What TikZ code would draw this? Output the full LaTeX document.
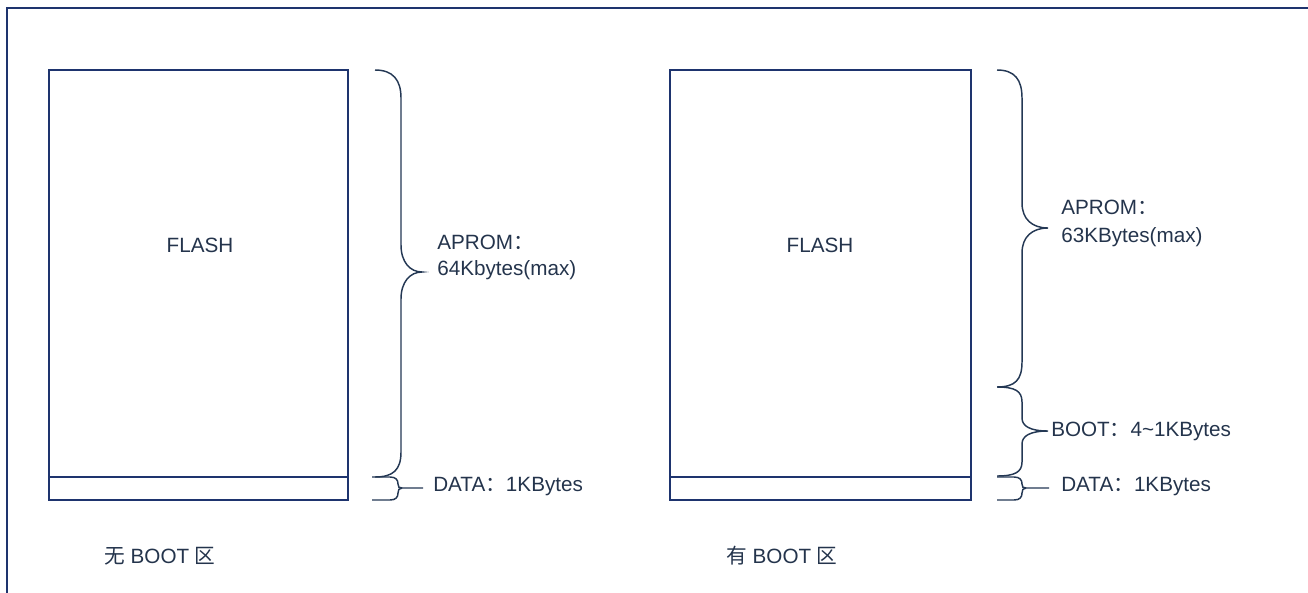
\documentclass[tikz,border=0pt]{standalone}
\usepackage{fontspec}
\setmainfont{Liberation Sans}
\newfontfamily\cjk{Noto Sans CJK SC}
\definecolor{navy}{RGB}{30,52,110}
\definecolor{brc}{RGB}{36,56,84}
\definecolor{txt}{RGB}{36,52,76}
\begin{document}
\begin{tikzpicture}[x=0.75pt,y=-0.75pt,
  box/.style={draw=navy,line width=1.3pt},
  brace/.style={draw=brc,line width=1.1pt},
  lbl/.style={text=txt,inner sep=0pt,anchor=west,font=\fontsize{15.5pt}{18pt}\selectfont},
  ctr/.style={text=txt,inner sep=0pt,font=\fontsize{15.5pt}{18pt}\selectfont}]
\useasboundingbox (0,0) rectangle (1308,592);
% frame
\draw[navy,line width=1.6pt] (7,610) -- (7,8) -- (1320,8);
% left flash
\draw[box] (49,70) rectangle (348,500);
\draw[box] (49,477) -- (348,477);
\node[ctr] (fl1) at (200,245) {FLASH};
% right flash
\draw[box] (670,70) rectangle (971,500);
\draw[box] (670,477) -- (971,477);
\node[ctr] (fl2) at (820,245) {FLASH};
% left APROM brace
\draw[brace] (375,70) .. controls (393,70) and (401,80) .. (401,98) -- (401,245)
  .. controls (401,262) and (410,272) .. (422,272)
  .. controls (410,272) and (401,282) .. (401,299) -- (401,452)
  .. controls (401,470) and (393,477) .. (375,477);
\node[lbl] (ap1) at (437,242) {APROM{\cjk ：}};
\node[lbl] (ap1b) at (437,270) {64Kbytes(max)};
% left DATA brace
\draw[brace] (372,477) -- (390,477) .. controls (396,477) and (398,480) .. (398,484)
  .. controls (398,487) and (399,488) .. (402,488) -- (423,488);
\draw[brace] (372,500) -- (390,500) .. controls (396,500) and (398,497) .. (398,493)
  .. controls (398,490) and (399,488) .. (402,488);
\node[lbl] (d1) at (433,487) {DATA{\cjk ：}1KBytes};
% right APROM brace
\draw[brace] (997,70) .. controls (1015,70) and (1022,80) .. (1022,98) -- (1022,203)
  .. controls (1022,219) and (1032,228) .. (1048,228)
  .. controls (1032,228) and (1022,237) .. (1022,253) -- (1022,362)
  .. controls (1022,380) and (1015,387) .. (997,387);
\node[lbl] (ap2) at (1061,207) {APROM{\cjk ：}};
\node[lbl] (ap2b) at (1061,237) {63KBytes(max)};
% right BOOT brace
\draw[brace] (997,387) .. controls (1015,387) and (1022,391) .. (1022,402) -- (1022,418)
  .. controls (1022,426) and (1030,431) .. (1048,431)
  .. controls (1030,431) and (1022,436) .. (1022,444) -- (1022,462)
  .. controls (1022,472) and (1015,476) .. (997,476);
\node[lbl] (b2) at (1051,431) {BOOT{\cjk ：}4\textasciitilde 1KBytes};
% right DATA brace
\draw[brace] (997,477) -- (1014,477) .. controls (1020,477) and (1022,480) .. (1022,484)
  .. controls (1022,487) and (1023,488) .. (1026,488) -- (1049,488);
\draw[brace] (997,500) -- (1014,500) .. controls (1020,500) and (1022,497) .. (1022,493)
  .. controls (1022,490) and (1023,488) .. (1026,488);
\node[lbl] (d2) at (1061,487) {DATA{\cjk ：}1KBytes};
% captions
\node[lbl] (c1) at (104,556) {{\cjk 无} BOOT {\cjk 区}};
\node[lbl] (c2) at (726,556) {{\cjk 有} BOOT {\cjk 区}};
\end{tikzpicture}
\end{document}
